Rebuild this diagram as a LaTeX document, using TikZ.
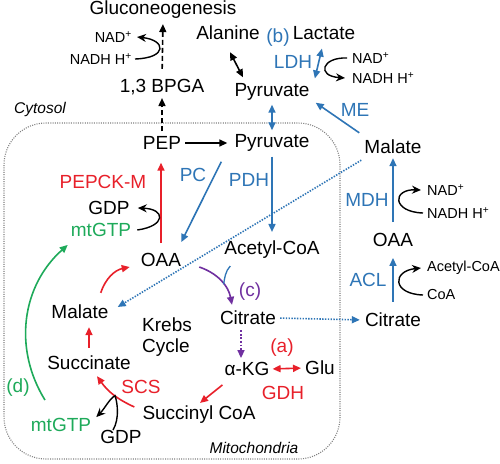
\documentclass[tikz,border=0pt]{standalone}
\usepackage{fontspec}
\setmainfont{Liberation Sans}
\usetikzlibrary{arrows.meta}
\definecolor{myblue}{HTML}{2E75B6}
\definecolor{myred}{HTML}{E8202A}
\definecolor{mygreen}{HTML}{1EAA5A}
\definecolor{mypurple}{HTML}{7030A0}
\begin{document}
\begin{tikzpicture}[x=1pt,y=-1pt,
  lab/.style={font=\fontsize{19}{22}\selectfont, inner sep=0pt},
  sm/.style={font=\fontsize{14.5}{17}\selectfont, inner sep=0pt},
  itl/.style={font=\fontsize{15.5}{18}\selectfont\itshape, inner sep=0pt},
  tipA/.tip={Triangle[length=8pt,width=7pt]},
  tipK/.tip={Stealth[length=9pt,width=8pt]},
  barr/.style={myblue, line width=1.6pt, -tipA},
  bdarr/.style={myblue, line width=1.6pt, tipA-tipA},
  rarr/.style={myred, line width=1.6pt, -tipA},
  rdarr/.style={myred, line width=1.6pt, tipA-tipA},
  karr/.style={black, line width=1.4pt, -tipK},
  kdarr/.style={black, line width=1.6pt, tipA-tipA},
  kdash/.style={black, line width=1.6pt, -tipA, dash pattern=on 5pt off 3pt},
  bdot/.style={myblue, line width=1.6pt, -tipA, dash pattern=on 1.4pt off 1.4pt},
  pdot/.style={mypurple, line width=1.6pt, -tipA, dash pattern=on 1.8pt off 1.8pt},
  parr/.style={mypurple, line width=1.6pt, -tipA},
  garr/.style={mygreen, line width=1.6pt, -tipA},
  border/.style={gray, line width=1.1pt, dash pattern=on 1pt off 1.3pt, rounded corners=42pt}
]
\useasboundingbox (0,0) rectangle (500,463);
\fill[white] (0,0) rectangle (500,463);

% mitochondria border
\draw[border] (4,123) rectangle (340,459);

% cytosol nodes
\node[lab] (gluco) at (163,10) {Gluconeogenesis};
\node[sm,anchor=east] (nad1) at (132,37) {NAD\textsuperscript{+}};
\node[sm,anchor=east] (nadh1) at (132,59) {NADH H\textsuperscript{+}};
\node[lab] (bpga) at (162,87) {1,3 BPGA};
\node[itl] (cyto) at (40,109) {Cytosol};
\node[lab] (ala) at (228,33) {Alanine};
\node[lab,text=myblue] (b) at (278,38) {(b)};
\node[lab] (lac) at (324,33) {Lactate};
\node[lab,text=myblue] (ldh) at (293,62) {LDH};
\node[sm,anchor=west] (nad2) at (352,58) {NAD\textsuperscript{+}};
\node[sm,anchor=west] (nadh2) at (352,78) {NADH H\textsuperscript{+}};
\node[lab] (pyrc) at (272,92) {Pyruvate};
\node[lab,text=myblue] (me) at (355,110) {ME};
\node[lab] (malc) at (393,147) {Malate};
\node[lab,text=myblue] (mdh) at (367,200) {MDH};
\node[sm,anchor=west] (nad3) at (427,190) {NAD\textsuperscript{+}};
\node[sm,anchor=west] (nadh3) at (427,213) {NADH H\textsuperscript{+}};
\node[lab] (oaac) at (393,240) {OAA};
\node[lab,text=myblue] (acl) at (368,280) {ACL};
\node[sm,anchor=west] (acoa2) at (427,268) {Acetyl-CoA};
\node[sm,anchor=west] (coa) at (427,295) {CoA};
\node[lab] (citc) at (393,320) {Citrate};

% mitochondria nodes
\node[lab] (pep) at (162,143) {PEP};
\node[lab] (pyrm) at (272,143) {Pyruvate};
\node[lab,text=myred] (pepck) at (103,182) {PEPCK-M};
\node[lab] (gdp1) at (109,208) {GDP};
\node[lab,text=mygreen] (mtgtp1) at (101,230) {mtGTP};
\node[lab,text=myblue] (pc) at (193,175) {PC};
\node[lab,text=myblue] (pdh) at (249,180) {PDH};
\node[lab] (oaam) at (161,260) {OAA};
\node[lab] (acoa) at (272,250) {Acetyl-CoA};
\node[lab] (malm) at (80,312) {Malate};
\node[lab,text=mypurple] (c) at (250,292) {(c)};
\node[lab] (citm) at (248,318) {Citrate};
\node[lab,anchor=west] (krebs) at (142,325) {Krebs};
\node[lab,anchor=west] (cycle) at (142,348) {Cycle};
\node[lab] (succ) at (89,363) {Succinate};
\node[lab] (akg) at (247,369) {α-KG};
\node[lab,text=myred] (a) at (282,348) {(a)};
\node[lab] (glu) at (320,368) {Glu};
\node[lab,text=myred] (gdh) at (283,393) {GDH};
\node[lab,text=myred] (scs) at (141,387) {SCS};
\node[lab] (succoa) at (199,415) {Succinyl CoA};
\node[lab] (gdp2) at (121,437) {GDP};
\node[lab,text=mygreen] (mtgtp2) at (61,425) {mtGTP};
\node[lab,text=mygreen] (d) at (18,388) {(d)};
\node[itl] (mito) at (254,448) {Mitochondria};

% cytosol connectors
\draw[kdash, shorten <=10pt, shorten >=5pt] (bpga.north) -- (gluco.south);
\draw[karr] ([xshift=3pt]nadh1.east) .. controls (168,58) and (166,40) .. ([xshift=5pt]nad1.east);
\draw[kdash, shorten <=5pt, shorten >=3pt] (pep.north) -- (bpga.south);
\draw[karr, line width=1.6pt, -tipA, shorten <=4pt, shorten >=7pt] (pep.east) -- (pyrm.west);
\draw[kdarr] ([xshift=2pt,yshift=-12pt]ala.south) -- ([xshift=-29pt,yshift=6pt]pyrc.north);
\draw[bdarr, shorten <=9pt, shorten >=5pt] (lac.south) -- ([xshift=4pt]pyrc.north east);
\draw[karr] ([xshift=-5pt]nad2.west) .. controls (322,57) and (316,76) .. ([xshift=-7pt]nadh2.west);
\draw[barr] ([xshift=-5pt,yshift=7pt]malc.north west) -- ([xshift=6pt,yshift=-2pt]pyrc.south east);
\draw[barr, shorten <=11pt, shorten >=4pt] (oaac.north) -- (malc.south);
\draw[karr] ([xshift=-4pt]nadh3.west) .. controls (392,212) and (392,189) .. ([xshift=-6pt]nad3.west);
\draw[barr, shorten <=11pt, shorten >=11pt] (citc.north) -- (oaac.south);
\draw[karr] ([xshift=-4pt]coa.west) .. controls (392,294) and (392,271) .. ([xshift=-6pt]acoa2.west);

% transport
\draw[bdarr, shorten <=4pt, shorten >=4pt] (pyrc.south) -- (pyrm.north);
\draw[bdot] ([xshift=-3pt,yshift=-6pt]malc.south west) -- ([xshift=9pt,yshift=5pt]malm.east);
\draw[bdot, shorten <=4pt, shorten >=5pt] (citm.east) -- (citc.west);

% mitochondria connectors
\draw[barr] ([xshift=-13pt,yshift=-10pt]pyrm.south west) -- ([yshift=11pt]oaam.north east);
\draw[barr, shorten <=5pt, shorten >=9pt] (pyrm.south) -- (acoa.north);
\draw[rarr, shorten <=10pt, shorten >=13pt] (oaam.north) -- (oaam.north |- pep.south);
\draw[karr] ([xshift=6pt]mtgtp1.east) .. controls (166,226) and (166,209) .. ([xshift=8pt]gdp1.east);
\draw[rarr] ([xshift=-8pt,yshift=12pt]malm.north east) to[bend left=30] ([xshift=-11pt,yshift=-7pt]oaam.west);
\draw[parr] ([xshift=18pt,yshift=-7pt]oaam.east) to[bend left=30] coordinate[pos=0.58] (pj) ([xshift=-16pt,yshift=6pt]citm.north);
\draw[myblue, line width=1.3pt] ([xshift=6pt,yshift=-7pt]acoa.south west) .. controls +(-5,5) and +(1,-6) .. (pj);
\draw[pdot, shorten <=5pt, shorten >=4pt] ([xshift=-7pt]citm.south) -- ([xshift=-6pt]akg.north);
\draw[rdarr, shorten <=3pt, shorten >=4pt] (akg.east) -- (glu.west);
\draw[rarr] ([xshift=-2pt,yshift=-9pt]akg.south west) -- ([xshift=1pt,yshift=3pt]succoa.north);
\draw[rarr] ([xshift=-8pt,yshift=-1pt]succoa.north west) to[bend left=15] coordinate[pos=0.45] (sj) ([xshift=8pt,yshift=-6pt]succ.south);
\draw[karr] ([xshift=-8pt]gdp2.north) .. controls +(7,-12) and +(2,6) .. (sj) .. controls +(-5,2) and +(8,-8) .. ([xshift=5pt,yshift=1pt]mtgtp2.north east);
\draw[rarr, shorten <=8pt, shorten >=8pt] (succ.north) -- (succ.north |- malm.south);
\draw[garr] ([xshift=-16pt,yshift=18pt]mtgtp2.north) to[bend left=40] ([xshift=-3pt,yshift=-8pt]mtgtp1.south west);
\end{tikzpicture}
\end{document}
